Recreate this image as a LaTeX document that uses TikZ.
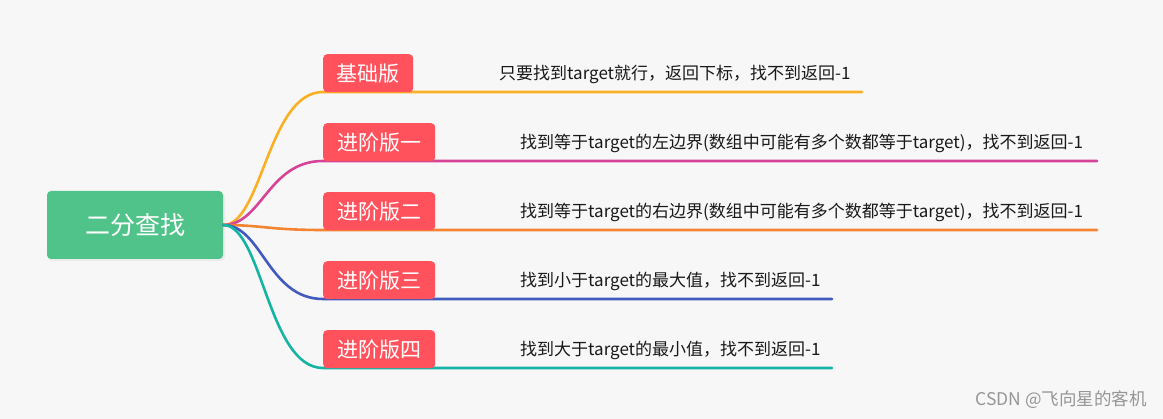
\documentclass[tikz,border=0pt]{standalone}
\usepackage{fontspec}
\setmainfont{Noto Sans CJK SC}
\definecolor{bg}{RGB}{247,247,247}
\definecolor{rootg}{RGB}{80,195,138}
\definecolor{boxr}{RGB}{255,82,92}
\definecolor{c1}{RGB}{250,176,36}
\definecolor{c2}{RGB}{214,68,152}
\definecolor{c3}{RGB}{245,132,50}
\definecolor{c4}{RGB}{64,90,190}
\definecolor{c5}{RGB}{20,180,165}
\definecolor{wm}{RGB}{150,150,150}
\begin{document}
\begin{tikzpicture}[x=1pt,y=-1pt,
  rootbox/.style={fill=rootg,rounded corners=4pt,minimum width=176pt,minimum height=68pt,inner sep=0pt,text=white,font=\fontsize{25}{29}\selectfont},
  redbox/.style={fill=boxr,rounded corners=4pt,minimum height=38pt,inner xsep=0pt,inner ysep=0pt,text=white,font=\fontsize{21}{25}\selectfont,anchor=north west},
  desc/.style={font=\fontsize{17}{20}\selectfont,text=black!90,anchor=west,inner sep=0pt},
  branch/.style={line width=2.6pt,line cap=round}]
\fill[bg] (0,0) rectangle (1163,419);
\useasboundingbox (0,0) rectangle (1163,419);
\fill[black!8,rounded corners=4pt] (48,193) rectangle (225,261);
\node[rootbox] (root) at (135,225) {二分查找};
% endpoints of underlines
\coordinate (e1) at (862,92);
\coordinate (e2) at (1097,161);
\coordinate (e3) at (1097,230);
\coordinate (e4) at (832,299);
\coordinate (e5) at (832,368);
\coordinate (s1) at (323,92);
\coordinate (s2) at (323,161);
\coordinate (s3) at (323,230);
\coordinate (s4) at (323,299);
\coordinate (s5) at (323,368);
% connectors
\draw[branch,c1] (root.east) .. controls (262,225) and (268,92) .. (s1) -- (e1);
\draw[branch,c2] (root.east) .. controls (262,225) and (268,161) .. (s2) -- (e2);
\draw[branch,c3] (root.east) .. controls (262,225) and (268,230) .. (s3) -- (e3);
\draw[branch,c4] (root.east) .. controls (262,225) and (268,299) .. (s4) -- (e4);
\draw[branch,c5] (root.east) .. controls (262,225) and (268,368) .. (s5) -- (e5);
% boxes
\node[redbox,minimum width=90pt] (b1) at (323,54) {基础版};
\node[redbox,minimum width=112pt] (b2) at (323,123) {进阶版一};
\node[redbox,minimum width=112pt] (b3) at (323,192) {进阶版二};
\node[redbox,minimum width=112pt] (b4) at (323,261) {进阶版三};
\node[redbox,minimum width=112pt] (b5) at (323,330) {进阶版四};
% descriptions
\node[desc] (t1) at (499,74) {只要找到target就行，返回下标，找不到返回-1};
\node[desc] (t2) at (520,143) {找到等于target的左边界(数组中可能有多个数都等于target)，找不到返回-1};
\node[desc] (t3) at (520,212) {找到等于target的右边界(数组中可能有多个数都等于target)，找不到返回-1};
\node[desc] (t4) at (520,281) {找到小于target的最大值，找不到返回-1};
\node[desc] (t5) at (520,350) {找到大于target的最小值，找不到返回-1};
% watermark
\node[anchor=east,inner sep=0pt,text=wm,font=\fontsize{17.5}{20}\selectfont] (wmk) at (1147,400) {CSDN @飞向星的客机};
\end{tikzpicture}
\end{document}
